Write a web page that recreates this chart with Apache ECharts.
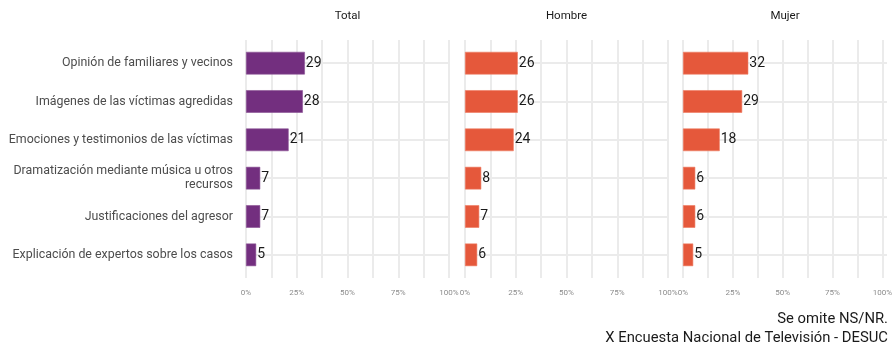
<!DOCTYPE html>
<html>
<head>
<meta charset="utf-8">
<script src="https://cdn.jsdelivr.net/npm/echarts@6/dist/echarts.min.js"></script>
<style>
html,body{margin:0;padding:0;background:#fff;}
#chart{width:895px;height:344px;}
</style>
</head>
<body>
<div id="chart"></div>
<script>
const categories = [
  "Opinión de familiares y vecinos",
  "Imágenes de las víctimas agredidas",
  "Emociones y testimonios de las víctimas",
  "Dramatización mediante música u otros\nrecursos",
  "Justificaciones del agresor",
  "Explicación de expertos sobre los casos"
];
const panels = ["Total", "Hombre", "Mujer"];
const totalValues = [29, 28, 21, 7, 7, 5];
const hombreValues = [26, 26, 24, 8, 7, 6];
const mujerValues = [32, 29, 18, 6, 6, 5];
const xTicks = [0, 25, 50, 75, 100];
const captionLines = ["Se omite NS/NR.", "X Encuesta Nacional de Televisión - DESUC"];

const seriesValues = [totalValues, hombreValues, mujerValues];
const colors = ["#732f7f", "#e5583b", "#e5583b"];
const borderColors = ["#8a5294", "#ee7a62", "#ee7a62"];
const lefts = [246, 465, 683];
const widths = [203, 203, 204];
const FONT = "Roboto, 'Noto Sans', sans-serif";
const gridColor = "#ebebeb";

const grids = [], xAxes = [], yAxes = [], series = [], graphics = [];
for (let i = 0; i < 3; i++) {
  grids.push({left: lefts[i], width: widths[i], top: 44, height: 230, containLabel: false});
}
for (let i = 0; i < 3; i++) {
  grids.push({left: lefts[i], width: widths[i], top: 40, height: 238, containLabel: false});
}
for (let i = 0; i < 3; i++) {
  xAxes.push({
    gridIndex: i, type: 'value', min: 0, max: 100,
    axisLine: {show: false}, axisTick: {show: false}, axisLabel: {show: false},
    splitLine: {show: false}
  });
  yAxes.push({
    gridIndex: i, type: 'category', data: categories, inverse: true,
    axisLine: {show: false}, axisTick: {show: false},
    axisLabel: {
      show: i === 0, margin: 13, color: '#4d4d4d', fontSize: 12.4,
      fontFamily: FONT, lineHeight: 14, align: 'right'
    },
    splitLine: {show: true, alignWithLabel: true, lineStyle: {color: gridColor, width: 2}}
  });
  series.push({
    type: 'bar', xAxisIndex: i, yAxisIndex: i, data: seriesValues[i],
    barWidth: '59%',
    itemStyle: {color: colors[i], borderColor: borderColors[i], borderWidth: 0.6},
    label: {
      show: true, position: 'right', distance: 1, color: '#1a1a1a',
      fontSize: 14, fontFamily: FONT
    },
    z: 3
  });
}
for (let i = 0; i < 3; i++) {
  xAxes.push({
    gridIndex: 3 + i, type: 'value', min: xTicks[0], max: xTicks[xTicks.length - 1], interval: 25,
    axisLine: {show: false}, axisTick: {show: false},
    axisLabel: {
      show: true, margin: 11, color: '#8c8c8c', fontSize: 8, fontFamily: FONT,
      formatter: v => v + '%', showMinLabel: true, showMaxLabel: true
    },
    splitLine: {show: true, lineStyle: {color: gridColor, width: 2}},
    minorTick: {show: false, splitNumber: 2},
    minorSplitLine: {show: true, lineStyle: {color: gridColor, width: 2}}
  });
  yAxes.push({
    gridIndex: 3 + i, type: 'value', min: 0, max: 1, show: false,
    splitLine: {show: false}
  });
  graphics.push({
    type: 'text', x: lefts[i] + widths[i] / 2, y: 16,
    style: {text: panels[i], textAlign: 'center', textVerticalAlign: 'middle',
      font: "11.5px " + FONT, fill: '#1a1a1a'}
  });
}
graphics.push({
  type: 'text', x: 888, y: 319,
  style: {text: captionLines[0], textAlign: 'right', textVerticalAlign: 'middle',
    font: "14.8px " + FONT, fill: '#1a1a1a'}
});
graphics.push({
  type: 'text', x: 888, y: 338,
  style: {text: captionLines[1], textAlign: 'right', textVerticalAlign: 'middle',
    font: "14.8px " + FONT, fill: '#1a1a1a'}
});

const chart = echarts.init(document.getElementById('chart'), null, {renderer: 'canvas'});
chart.setOption({
  animation: false,
  backgroundColor: '#ffffff',
  grid: grids, xAxis: xAxes, yAxis: yAxes, series: series,
  graphic: graphics
});
</script>
</body>
</html>
